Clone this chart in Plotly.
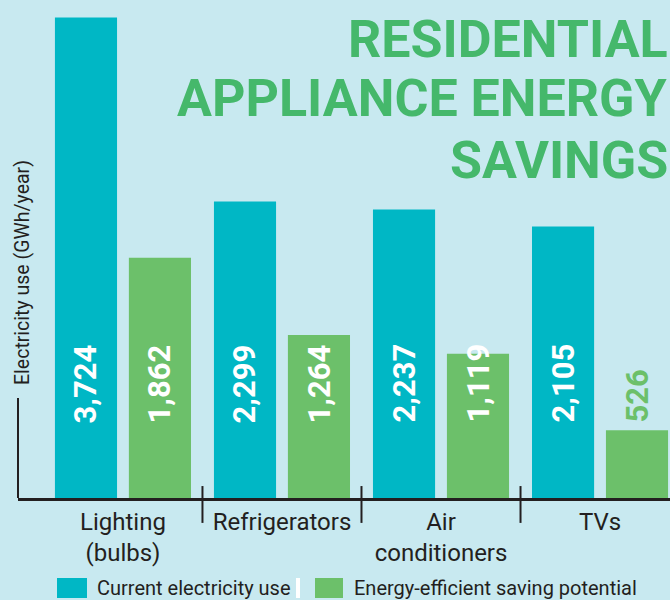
import plotly.graph_objects as go

categories = ["Lighting", "Refrigerators", "Air conditioners", "TVs"]
tick_labels = ["Lighting<br>(bulbs)", "Refrigerators", "Air<br>conditioners", "TVs"]
current_use = [3724, 2299, 2237, 2105]
saving_potential = [1862, 1264, 1119, 526]
series_names = ["Current electricity use", "Energy-efficient saving potential"]
title_lines = ["RESIDENTIAL", "APPLIANCE ENERGY", "SAVINGS"]
y_title = "Electricity use (GWh/year)"

BG = "#c8e9f0"
TEAL = "#00b7c5"
GREEN = "#6cc06a"
TITLE_GREEN = "#45b86b"
DARK = "#231f20"
LABEL_FONT = "Roboto, Liberation Sans, sans-serif"
VALUE_FONT = "Roboto, Liberation Sans, sans-serif"
TITLE_FONT = "Roboto, Liberation Sans, sans-serif"

LABEL_BASE = 566  # data value where rotated labels start

fig = go.Figure()
for name, vals, col in [(series_names[0], current_use, TEAL), (series_names[1], saving_potential, GREEN)]:
    fig.add_trace(go.Bar(x=categories, y=vals, name=name, marker=dict(color=col, line=dict(width=0)),
                         showlegend=False, hoverinfo="x+y"))

# value labels
for vals, col, shift in [(current_use, TEAL, -37), (saving_potential, GREEN, 37)]:
    for c, v in zip(categories, vals):
        inside = v > LABEL_BASE + 450
        fig.add_annotation(x=c, y=LABEL_BASE, xref="x", yref="y", xshift=shift,
                           text=f"<b>{v:,}</b>", textangle=-90, showarrow=False,
                           yanchor="bottom", xanchor="center",
                           font=dict(family=VALUE_FONT, size=31, color="white" if inside else col))

# title
title_tops = [0.985, 0.868, 0.743]
for line, yt in zip(title_lines, title_tops):
    fig.add_annotation(x=1.0, y=yt, xref="paper", yref="paper", text=f"<b>{line}</b>",
                       showarrow=False, xanchor="right", yanchor="top", align="right",
                       font=dict(family=TITLE_FONT, size=52, color=TITLE_GREEN))

# y title
fig.add_annotation(x=0.0061, y=0.4538, xref="paper", yref="paper", text=y_title, textangle=-90,
                   showarrow=False, xanchor="center", yanchor="middle",
                   font=dict(family=LABEL_FONT, size=19.5, color=DARK))

# partial y axis line
fig.add_shape(type="line", xref="paper", yref="paper", x0=0, x1=0, y0=0, y1=0.2008,
              line=dict(color=DARK, width=2))
# category separator ticks
for xb in [0.5, 1.5, 2.5]:
    fig.add_shape(type="line", xref="x", yref="paper", x0=xb, x1=xb, y0=-0.05, y1=0.024,
                  line=dict(color=DARK, width=2))

# custom legend
lx = [(0.0598, 0.1058, TEAL, 0.1181, series_names[0]), (0.4555, 0.4985, GREEN, 0.5123, series_names[1])]
for x0, x1, col, tx, nm in lx:
    fig.add_shape(type="rect", xref="paper", yref="paper", x0=x0, x1=x1, y0=-0.2008, y1=-0.1606,
                  fillcolor=col, line=dict(width=0))
    fig.add_annotation(x=tx, y=-0.1807, xref="paper", yref="paper", text=nm, showarrow=False,
                       xanchor="left", yanchor="middle",
                       font=dict(family=LABEL_FONT, size=20, color=DARK))
fig.add_shape(type="rect", xref="paper", yref="paper", x0=0.4264, x1=0.4325, y0=-0.2008, y1=-0.1606,
              fillcolor="white", line=dict(width=0))

fig.update_layout(
    width=670, height=600, paper_bgcolor=BG, plot_bgcolor=BG,
    margin=dict(l=18, r=0, t=0, b=102),
    barmode="group", bargap=0.07, bargroupgap=0.16,
    showlegend=False,
    xaxis=dict(type="category", range=[-0.66, 3.44], tickvals=categories, ticktext=tick_labels,
               ticks="", showline=True, linecolor=DARK, linewidth=2.5, showgrid=False,
               tickfont=dict(family=LABEL_FONT, size=24, color=DARK), fixedrange=True),
    yaxis=dict(range=[0, 3860], showticklabels=False, showgrid=False, zeroline=False,
               ticks="", showline=False, fixedrange=True),
)

fig.write_html("out.html", config={"displayModeBar": False},
               post_script="document.body.style.margin='0';document.body.style.padding='0';"
                           "document.documentElement.style.overflow='hidden';")
